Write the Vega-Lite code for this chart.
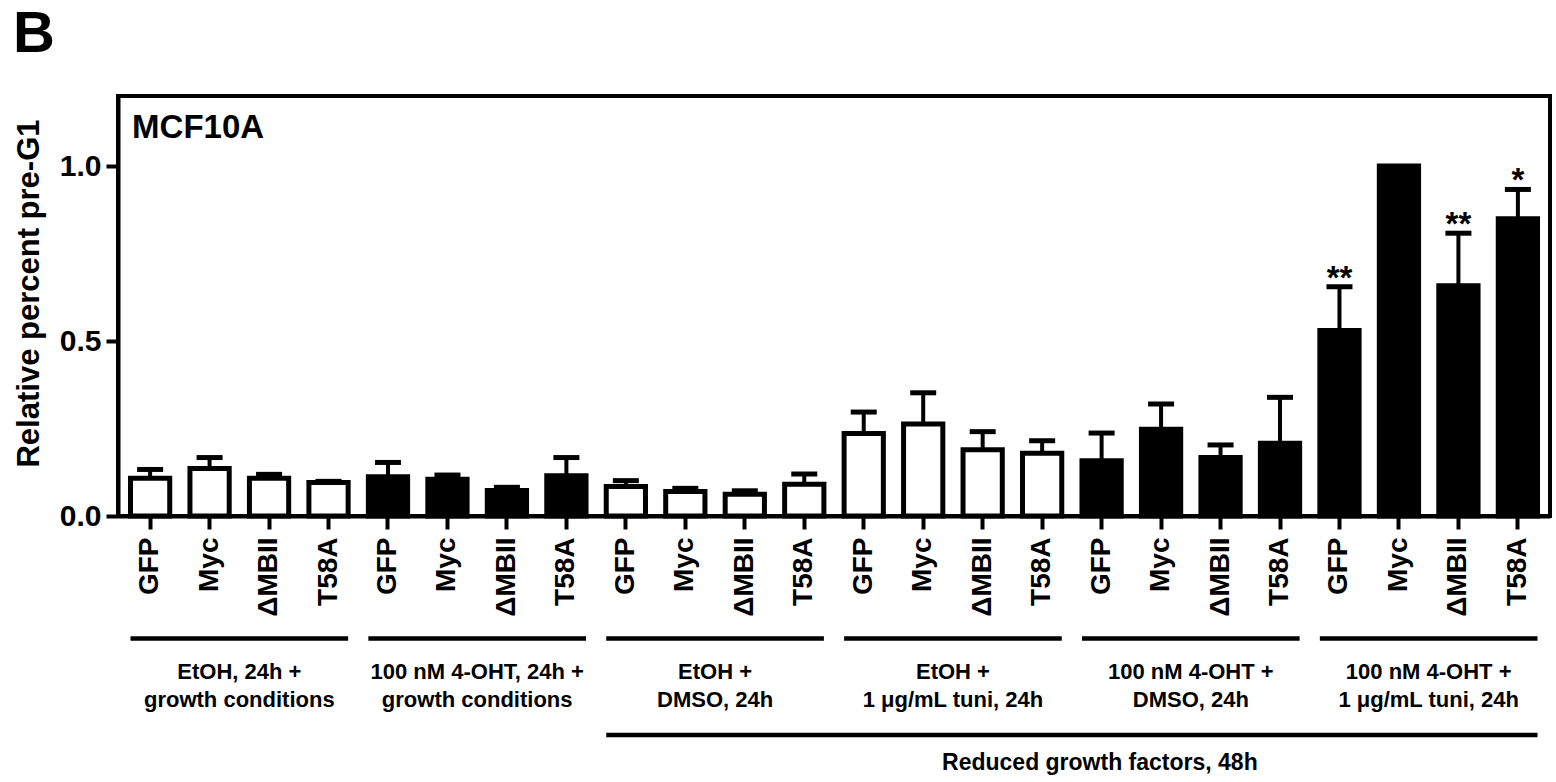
{
  "$schema": "https://vega.github.io/schema/vega-lite/v6.json",
  "autosize": "none",
  "width": 1432,
  "height": 420,
  "padding": {"left": 118, "top": 96, "right": 6, "bottom": 266},
  "title": {"text": "B", "anchor": "start", "frame": "group", "fontSize": 58, "fontWeight": "bold", "font": "Liberation Sans", "baseline": "alphabetic", "offset": -14, "dx": -105, "color": "black"},
  "datasets": {
    "bars": [
      {"key": "1|GFP", "treatment": "EtOH", "value": 0.108, "upper": 0.133, "sig": ""},
      {"key": "1|Myc", "treatment": "EtOH", "value": 0.136, "upper": 0.167, "sig": ""},
      {"key": "1|ΔMBII", "treatment": "EtOH", "value": 0.108, "upper": 0.119, "sig": ""},
      {"key": "1|T58A", "treatment": "EtOH", "value": 0.096, "upper": 0.099, "sig": ""},
      {"key": "2|GFP", "treatment": "4-OHT", "value": 0.112, "upper": 0.153, "sig": ""},
      {"key": "2|Myc", "treatment": "4-OHT", "value": 0.105, "upper": 0.117, "sig": ""},
      {"key": "2|ΔMBII", "treatment": "4-OHT", "value": 0.073, "upper": 0.082, "sig": ""},
      {"key": "2|T58A", "treatment": "4-OHT", "value": 0.115, "upper": 0.167, "sig": ""},
      {"key": "3|GFP", "treatment": "EtOH", "value": 0.084, "upper": 0.101, "sig": ""},
      {"key": "3|Myc", "treatment": "EtOH", "value": 0.070, "upper": 0.079, "sig": ""},
      {"key": "3|ΔMBII", "treatment": "EtOH", "value": 0.062, "upper": 0.072, "sig": ""},
      {"key": "3|T58A", "treatment": "EtOH", "value": 0.091, "upper": 0.120, "sig": ""},
      {"key": "4|GFP", "treatment": "EtOH", "value": 0.236, "upper": 0.297, "sig": ""},
      {"key": "4|Myc", "treatment": "EtOH", "value": 0.263, "upper": 0.352, "sig": ""},
      {"key": "4|ΔMBII", "treatment": "EtOH", "value": 0.189, "upper": 0.241, "sig": ""},
      {"key": "4|T58A", "treatment": "EtOH", "value": 0.179, "upper": 0.215, "sig": ""},
      {"key": "5|GFP", "treatment": "4-OHT", "value": 0.158, "upper": 0.237, "sig": ""},
      {"key": "5|Myc", "treatment": "4-OHT", "value": 0.248, "upper": 0.320, "sig": ""},
      {"key": "5|ΔMBII", "treatment": "4-OHT", "value": 0.167, "upper": 0.203, "sig": ""},
      {"key": "5|T58A", "treatment": "4-OHT", "value": 0.208, "upper": 0.339, "sig": ""},
      {"key": "6|GFP", "treatment": "4-OHT", "value": 0.530, "upper": 0.655, "sig": "**"},
      {"key": "6|Myc", "treatment": "4-OHT", "value": 1.0, "upper": null, "sig": ""},
      {"key": "6|ΔMBII", "treatment": "4-OHT", "value": 0.658, "upper": 0.808, "sig": "**"},
      {"key": "6|T58A", "treatment": "4-OHT", "value": 0.849, "upper": 0.933, "sig": "*"}
    ],
    "groups": [
      {"label": ["EtOH, 24h +", "growth conditions"], "first": "1|GFP", "last": "1|T58A", "tier": 1},
      {"label": ["100 nM 4-OHT, 24h +", "growth conditions"], "first": "2|GFP", "last": "2|T58A", "tier": 1},
      {"label": ["EtOH +", "DMSO, 24h"], "first": "3|GFP", "last": "3|T58A", "tier": 1},
      {"label": ["EtOH +", "1 μg/mL tuni, 24h"], "first": "4|GFP", "last": "4|T58A", "tier": 1},
      {"label": ["100 nM 4-OHT +", "DMSO, 24h"], "first": "5|GFP", "last": "5|T58A", "tier": 1},
      {"label": ["100 nM 4-OHT +", "1 μg/mL tuni, 24h"], "first": "6|GFP", "last": "6|T58A", "tier": 1},
      {"label": ["Reduced growth factors, 48h"], "first": "3|GFP", "last": "6|T58A", "tier": 2}
    ]
  },
  "layer": [
    {
      "layer": [
        {
          "data": {"name": "bars"},
          "mark": {"type": "bar", "stroke": "black", "strokeWidth": 5},
          "encoding": {
            "x": {"field": "key", "type": "nominal", "sort": null,
              "scale": {"domain": ["1|GFP","1|Myc","1|ΔMBII","1|T58A","2|GFP","2|Myc","2|ΔMBII","2|T58A","3|GFP","3|Myc","3|ΔMBII","3|T58A","4|GFP","4|Myc","4|ΔMBII","4|T58A","5|GFP","5|Myc","5|ΔMBII","5|T58A","6|GFP","6|Myc","6|ΔMBII","6|T58A"], "paddingInner": 0.34, "paddingOuter": 0.21},
              "axis": {"title": null, "labelExpr": "split(datum.label, '|')[1]", "labelAngle": -90, "labelFontSize": 28, "labelFontWeight": "bold", "labelColor": "black", "tickSize": 13, "tickWidth": 4, "tickColor": "black", "domainColor": "black", "domainWidth": 4, "labelPadding": 8}},
            "y": {"field": "value", "type": "quantitative",
              "scale": {"domain": [0, 1.2], "nice": false},
              "axis": {"title": "Relative percent pre-G1", "values": [0, 0.5, 1], "format": ".1f", "grid": false, "labelFontSize": 30, "labelFontWeight": "bold", "labelColor": "black", "tickSize": 12, "tickWidth": 4, "tickColor": "black", "domainColor": "black", "domainWidth": 4, "labelPadding": 5, "titleFontSize": 31, "titleFontWeight": "bold", "titleColor": "black", "titleX": -80, "titleY": 197, "titleBaseline": "alphabetic"}},
            "color": {"field": "treatment", "type": "nominal", "scale": {"domain": ["EtOH", "4-OHT"], "range": ["#ffffff", "#000000"]}, "legend": null}
          }
        },
        {
          "data": {"name": "bars"},
          "transform": [{"filter": "datum.upper != null"}],
          "mark": {"type": "rule", "color": "black", "strokeWidth": 4},
          "encoding": {
            "x": {"field": "key", "type": "nominal"},
            "y": {"field": "value", "type": "quantitative"},
            "y2": {"field": "upper"}
          }
        },
        {
          "data": {"name": "bars"},
          "transform": [{"filter": "datum.upper != null"}],
          "mark": {"type": "tick", "color": "black", "size": 26, "thickness": 5, "opacity": 1},
          "encoding": {
            "x": {"field": "key", "type": "nominal"},
            "y": {"field": "upper", "type": "quantitative"}
          }
        },
        {
          "data": {"name": "bars"},
          "transform": [{"filter": "datum.sig != ''"}],
          "mark": {"type": "text", "fontSize": 33, "fontWeight": "bold", "baseline": "alphabetic", "align": "center", "dy": 2, "color": "black"},
          "encoding": {
            "x": {"field": "key", "type": "nominal"},
            "y": {"field": "upper", "type": "quantitative"},
            "text": {"field": "sig"}
          }
        },
        {
          "data": {"values": [{"label": "MCF10A"}]},
          "mark": {"type": "text", "fontSize": 33, "fontWeight": "bold", "baseline": "alphabetic", "align": "left", "dx": -18, "dy": 42, "color": "black"},
          "encoding": {
            "x": {"datum": "1|GFP", "type": "nominal"},
            "y": {"datum": 1.2, "type": "quantitative"},
            "text": {"field": "label"}
          }
        }
      ]
    },
    {
      "data": {"name": "groups"},
      "layer": [
        {
          "mark": {"type": "rule", "color": "black", "strokeWidth": 4.5},
          "encoding": {
            "x": {"field": "first", "type": "nominal", "bandPosition": 0},
            "x2": {"field": "last", "bandPosition": 1},
            "y": {"field": "tier", "type": "quantitative", "scale": {"domain": [1, 2], "range": [542.5, 639], "nice": false, "zero": false}, "axis": null}
          }
        },
        {
          "transform": [{"filter": "datum.tier == 1"}],
          "mark": {"type": "text", "fontSize": 22, "fontWeight": "bold", "align": "center", "baseline": "alphabetic", "lineHeight": 28, "dy": 40.5, "color": "black",
            "x": {"expr": "(scale('x', datum.first) + scale('x', datum.last) + bandwidth('x')) / 2"}},
          "encoding": {
            "y": {"field": "tier", "type": "quantitative"},
            "text": {"field": "label"}
          }
        },
        {
          "transform": [{"filter": "datum.tier == 2"}],
          "mark": {"type": "text", "fontSize": 23, "fontWeight": "bold", "align": "center", "baseline": "alphabetic", "dy": 35, "dx": 28, "color": "black",
            "x": {"expr": "(scale('x', datum.first) + scale('x', datum.last) + bandwidth('x')) / 2"}},
          "encoding": {
            "y": {"field": "tier", "type": "quantitative"},
            "text": {"field": "label"}
          }
        }
      ]
    }
  ],
  "resolve": {"scale": {"y": "independent"}, "axis": {"y": "independent"}},
  "config": {
    "font": "Liberation Sans",
    "view": {"stroke": "black", "strokeWidth": 4},
    "background": "white"
  }
}
